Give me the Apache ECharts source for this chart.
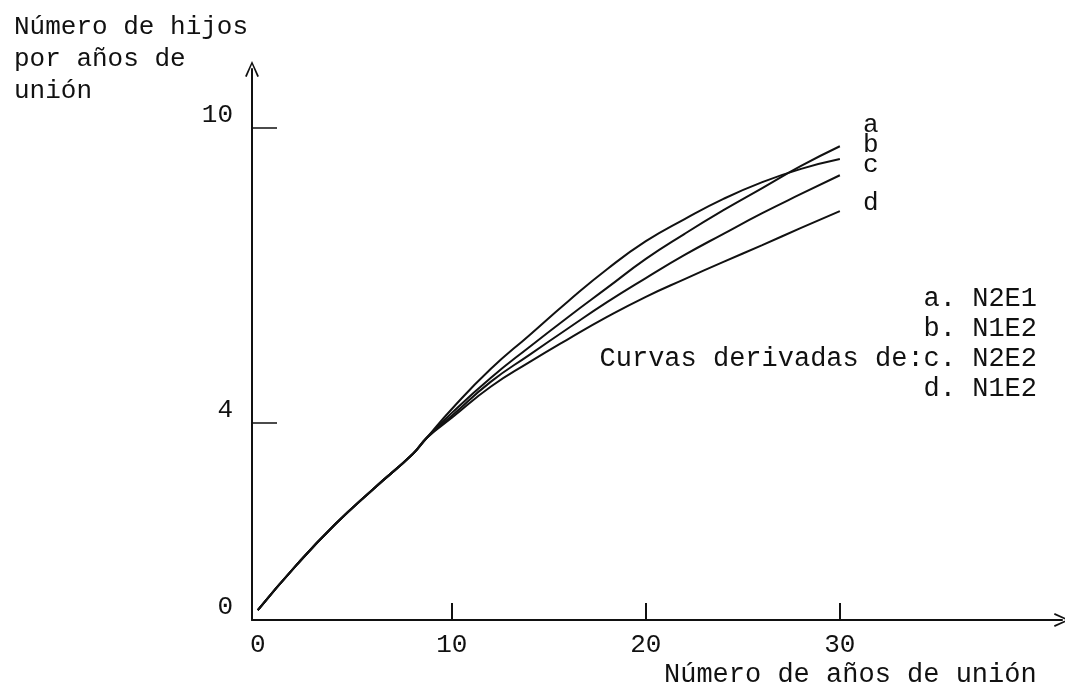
<!DOCTYPE html>
<html><head><meta charset="utf-8">
<script src="https://cdn.jsdelivr.net/npm/echarts@6/dist/echarts.min.js"></script>
<style>html,body{margin:0;padding:0;background:#fff}#c{width:1065px;height:688px}</style>
</head><body><div id="c"></div>
<script>
const years = [0, 2, 4, 6, 8, 8.7, 10, 12, 14, 16, 18, 20, 22, 24, 26, 28, 30];
const serieA = [0.2, 1.12, 1.95, 2.68, 3.38, 3.70, 4.21, 4.92, 5.55, 6.16, 6.75, 7.34, 7.85, 8.33, 8.78, 9.23, 9.63];
const serieB = [0.2, 1.12, 1.95, 2.68, 3.38, 3.70, 4.29, 5.10, 5.79, 6.48, 7.13, 7.70, 8.15, 8.56, 8.90, 9.17, 9.37];
const serieC = [0.2, 1.12, 1.95, 2.68, 3.38, 3.70, 4.15, 4.84, 5.39, 5.93, 6.46, 6.95, 7.42, 7.85, 8.27, 8.66, 9.04];
const serieD = [0.2, 1.12, 1.95, 2.68, 3.38, 3.70, 4.11, 4.74, 5.24, 5.71, 6.16, 6.57, 6.93, 7.28, 7.62, 7.97, 8.31];
const seriesNames = ['a', 'b', 'c', 'd'];
const xTickValues = [10, 20, 30];
const xLabelValues = [0, 10, 20, 30];
const yTickValues = [4, 10];
const yLabelValues = [0, 4, 10];
const yTitle = ['Número de hijos', 'por años de', 'unión'];
const xTitle = 'Número de años de unión';
const legendLines = ['a. N2E1', 'b. N1E2', 'Curvas derivadas de:c. N2E2', 'd. N1E2'];

const FONT = '"Liberation Mono", "DejaVu Sans Mono", monospace';
const INK = '#111';
const chart = echarts.init(document.getElementById('c'), null, {renderer: 'canvas'});
const allSeries = [serieA, serieB, serieC, serieD];
const arrowPath = 'path://M5,0 L10,11 L8.8,11.5 L5,2.6 L1.2,11.5 L0,11 Z';

const graphics = [];
yTitle.forEach((t, i) => graphics.push({
  type: 'text', left: 14, top: 14 + i * 32,
  style: {text: t, font: '26px ' + FONT, fill: INK}
}));
graphics.push({type: 'text', left: 664, top: 661, style: {text: xTitle, font: '27px ' + FONT, fill: INK}});
const legendY = [285, 315, 345, 375];
legendLines.forEach((t, i) => graphics.push({
  type: 'text', right: 28, top: legendY[i],
  style: {text: t, font: '27px ' + FONT, fill: INK, textAlign: 'right'}
}));
const endLabelY = [112, 132, 152, 190];
seriesNames.forEach((n, i) => graphics.push({
  type: 'text', left: 863, top: endLabelY[i],
  style: {text: n, font: '26px ' + FONT, fill: INK}
}));

chart.setOption({
  backgroundColor: '#fff',
  animation: false,
  grid: {left: 252, right: 3, top: 69, bottom: 68, containLabel: false},
  xAxis: {
    type: 'value', min: -0.3, max: 41.45,
    splitLine: {show: false},
    axisLine: {onZero: false, lineStyle: {color: INK, width: 2},
      symbol: ['none', arrowPath], symbolSize: [14, 16]},
    axisTick: {show: true, inside: true, length: 17, customValues: xTickValues, lineStyle: {color: INK, width: 2}},
    axisLabel: {customValues: xLabelValues, color: INK, fontFamily: FONT, fontSize: 26, margin: 12}
  },
  yAxis: {
    type: 'value', min: 0, max: 11.2,
    splitLine: {show: false},
    axisLine: {onZero: false, lineStyle: {color: INK, width: 2},
      symbol: ['none', arrowPath], symbolSize: [14, 16]},
    axisTick: {show: true, inside: true, length: 25, customValues: yTickValues, lineStyle: {color: INK, width: 1.5}},
    axisLabel: {customValues: yLabelValues, color: INK, fontFamily: FONT, fontSize: 26, margin: 19, verticalAlign: 'bottom', lineHeight: 26}
  },
  graphic: graphics,
  series: allSeries.map((s, i) => ({
    name: seriesNames[i], type: 'line', smooth: 0.5, symbol: 'none',
    lineStyle: {color: INK, width: 2},
    data: years.map((y, j) => [y, s[j]])
  }))
});
</script></body></html>
